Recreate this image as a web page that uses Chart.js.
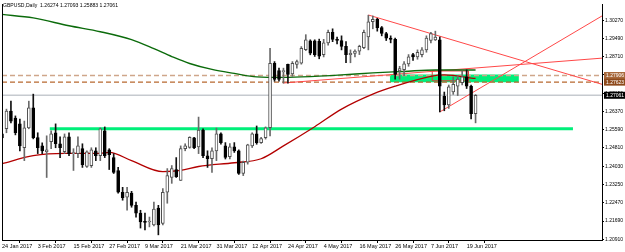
<!DOCTYPE html>
<html>
<head>
<meta charset="utf-8">
<script src="https://cdn.jsdelivr.net/npm/chart.js@4.4.1/dist/chart.umd.min.js"></script>
<style>
html, body { margin: 0; padding: 0; background: #fff; }
#wrap { width: 625px; height: 252px; }
</style>
</head>
<body>
<div id="wrap"><canvas id="chart" width="625" height="252"></canvas></div>
<script>
// ---- data ----
const title = "GBPUSD,Daily  1.26274 1.27093 1.25883 1.27061";

const dateLabels = ["24 Jan 2017","3 Feb 2017","15 Feb 2017","27 Feb 2017","9 Mar 2017","21 Mar 2017",
  "31 Mar 2017","12 Apr 2017","24 Apr 2017","4 May 2017","16 May 2017","26 May 2017","7 Jun 2017","19 Jun 2017"];
const dateIdx = [0,8,16,24,32,40,48,56,64,72,80,88,96,104];

const priceTicks = [1.30270,1.29490,1.28710,1.27930,1.27150,1.26370,1.25590,1.24810,1.24030,1.23250,1.22470,1.21690,1.20910];

const opens = [1.2541,1.2563,1.2639,1.2609,1.2584,1.2482,1.2567,1.2652,1.2525,1.2490,
  1.2465,1.2508,1.2546,1.2499,1.2465,1.2529,1.2457,1.2457,1.2478,1.2402,
  1.2406,1.2469,1.2448,1.2554,1.2473,1.2440,1.2385,1.2292,1.2271,1.2288,
  1.2236,1.2203,1.2167,1.2165,1.2152,1.2224,1.2159,1.2292,1.2355,1.2389,
  1.2342,1.2478,1.2483,1.2524,1.2486,1.2558,1.2448,1.2435,1.2469,1.2542,
  1.2490,1.2444,1.2486,1.2469,1.2372,1.2420,1.2490,1.2541,1.2504,1.2525,
  1.2568,1.2843,1.2812,1.2806,1.2838,1.2797,1.2838,1.2843,1.2901,1.2939,
  1.2939,1.2937,1.2880,1.2930,1.2975,1.2945,1.2940,1.2915,1.2880,1.2885,
  1.2895,1.2910,1.2955,1.3020,1.3030,1.2995,1.2970,1.2950,1.2945,1.2810,
  1.2815,1.2840,1.2880,1.2870,1.2880,1.2900,1.2940,1.2943,1.2943,1.2702,
  1.2665,1.2720,1.2745,1.2760,1.2785,1.2745,1.26274];
const highs = [1.2550,1.2647,1.2681,1.2618,1.2605,1.2596,1.2681,1.2711,1.2546,1.2503,
  1.2533,1.2554,1.2584,1.2529,1.2541,1.2546,1.2478,1.2529,1.2499,1.2469,
  1.2482,1.2482,1.2567,1.2571,1.2478,1.2457,1.2398,1.2313,1.2313,1.2296,
  1.2250,1.2215,1.2203,1.2186,1.2250,1.2236,1.2308,1.2393,1.2406,1.2440,
  1.2490,1.2499,1.2529,1.2526,1.2613,1.2563,1.2469,1.2482,1.2566,1.2546,
  1.2504,1.2500,1.2504,1.2473,1.2425,1.2497,1.2546,1.2575,1.2526,1.2571,
  1.2907,1.2850,1.2822,1.2822,1.2839,1.2850,1.2857,1.2914,1.2965,1.2943,
  1.2943,1.2946,1.2945,1.2985,1.2990,1.2955,1.2960,1.2935,1.2900,1.2900,
  1.2920,1.2985,1.3048,1.3045,1.3035,1.3000,1.2975,1.2960,1.2950,1.2830,
  1.2850,1.2880,1.2885,1.2900,1.2910,1.2960,1.2975,1.2980,1.2955,1.2720,
  1.2750,1.2785,1.2790,1.2810,1.2815,1.2750,1.27093];
const lows = [1.2516,1.2546,1.2588,1.2537,1.2469,1.2427,1.2563,1.2520,1.2457,1.2457,
  1.2355,1.2478,1.2482,1.2440,1.2457,1.2448,1.2385,1.2440,1.2398,1.2398,
  1.2398,1.2427,1.2427,1.2440,1.2389,1.2372,1.2288,1.2258,1.2215,1.2228,
  1.2186,1.2139,1.2131,1.2144,1.2148,1.2110,1.2152,1.2245,1.2330,1.2355,
  1.2342,1.2469,1.2480,1.2478,1.2457,1.2440,1.2398,1.2377,1.2427,1.2497,
  1.2434,1.2434,1.2462,1.2368,1.2363,1.2412,1.2483,1.2497,1.2500,1.2519,
  1.2533,1.2766,1.2766,1.2758,1.2758,1.2787,1.2822,1.2839,1.2897,1.2879,
  1.2872,1.2862,1.2870,1.2920,1.2935,1.2925,1.2900,1.2845,1.2845,1.2870,
  1.2880,1.2905,1.2900,1.2990,1.2980,1.2960,1.2940,1.2930,1.2775,1.2775,
  1.2790,1.2830,1.2855,1.2860,1.2870,1.2890,1.2930,1.2940,1.2635,1.2640,
  1.2650,1.2710,1.2705,1.2750,1.2735,1.2605,1.25883];
const closes = [1.2524,1.2639,1.2596,1.2546,1.2490,1.2567,1.2652,1.2525,1.2482,1.2469,
  1.2473,1.2541,1.2499,1.2482,1.2529,1.2457,1.2461,1.2490,1.2410,1.2465,
  1.2473,1.2448,1.2563,1.2448,1.2452,1.2377,1.2292,1.2269,1.2292,1.2236,
  1.2203,1.2165,1.2163,1.2167,1.2220,1.2152,1.2292,1.2363,1.2393,1.2359,
  1.2478,1.2490,1.2526,1.2482,1.2558,1.2448,1.2435,1.2469,1.2542,1.2504,
  1.2441,1.2486,1.2469,1.2372,1.2420,1.2495,1.2541,1.2504,1.2521,1.2567,
  1.2843,1.2774,1.2774,1.2812,1.2795,1.2843,1.2850,1.2907,1.2943,1.2886,
  1.2880,1.2873,1.2930,1.2975,1.2945,1.2940,1.2915,1.2880,1.2885,1.2895,
  1.2915,1.2975,1.3020,1.3030,1.2995,1.2970,1.2950,1.2945,1.2795,1.2820,
  1.2840,1.2870,1.2870,1.2890,1.2900,1.2950,1.2970,1.2955,1.2745,1.2665,
  1.2742,1.2753,1.2775,1.2785,1.2745,1.26274,1.27061];

const greenMaIdx = [0,7,15,22,29,34,38,42,47,52,57,63,70,76,83,90,97,106];
const greenMaVal = [1.30516,1.30367,1.30029,1.29775,1.29436,1.29053,1.28716,1.28419,1.28165,1.27996,
  1.27848,1.27826,1.27869,1.27932,1.28017,1.28080,1.28144,1.28144];
const redMaIdx = [0,7,14,22,24,29,36,40,44,52,58,63,70,76,83,88,96,99,106];
const redMaVal = [1.2414,1.2448,1.2458,1.2458,1.2462,1.2427,1.2380,1.2385,1.2402,1.2418,
  1.2435,1.2490,1.2572,1.2647,1.2711,1.2745,1.2787,1.2793,1.2778];

// trend lines [startIdx, startPrice, endIdx, endPrice]
const trendLines = [
  [82, 1.3049, 134.3, 1.2753],
  [62.9, 1.27585, 134.3, 1.28648],
  [98, 1.2635, 134.3, 1.3045]
];

// horizontal levels
const bidPrice = 1.27061;
const levelUpper = 1.27906;
const levelLower = 1.27623;
const supportLevel = 1.2563;
const supportFrom = 10.7, supportTo = 127.8;
const zoneTop = 1.2795, zoneBottom = 1.2762, zoneFrom = 86.8, zoneTo = 115.7;
// small red box over the zone [fromIdx, toIdx, top, bottom]
const redBox = [96.3, 104.4, 1.2810, 1.2768];

const xMin = 0, xMax = 134.3;
const yMin = 1.2088, yMax = 1.3096;

// ---- build datasets ----
const bull = opens.map((o, i) => closes[i] >= o);
const wickData = highs.map((h, i) => ({ x: i, y: [lows[i], h] }));
const bodyData = opens.map((o, i) => ({ x: i, y: [Math.min(o, closes[i]), Math.max(o, closes[i])] }));

function seg(x1, y1, x2, y2) { return [{ x: x1, y: y1 }, { x: x2, y: y2 }]; }
function lineDs(data, color, width, extra) {
  return Object.assign({ type: 'line', data, borderColor: color, borderWidth: width,
    pointRadius: 0, fill: false, tension: 0, order: 5 }, extra || {});
}
const boxPts = [
  { x: redBox[0], y: redBox[2] }, { x: redBox[1], y: redBox[2] },
  { x: redBox[1], y: redBox[3] }, { x: redBox[0], y: redBox[3] },
  { x: redBox[0], y: redBox[2] }
];

const datasets = [
  // candles on top
  { type: 'bar', data: bodyData, grouped: false, barThickness: 3, minBarLength: 1,
    backgroundColor: bull.map(b => b ? '#ffffff' : '#000000'),
    borderColor: bull.map(b => b ? '#505050' : '#000000'),
    borderWidth: 1, borderSkipped: false, order: 0 },
  { type: 'bar', data: wickData, grouped: false, barThickness: 1,
    backgroundColor: bull.map(b => b ? '#6a6a6a' : '#111111'), order: 1 },
  // moving averages
  lineDs(greenMaIdx.map((x, i) => ({ x, y: greenMaVal[i] })), '#0b6b0b', 1.4,
    { order: 2, cubicInterpolationMode: 'monotone' }),
  lineDs(redMaIdx.map((x, i) => ({ x, y: redMaVal[i] })), '#b30000', 1.3,
    { order: 2, cubicInterpolationMode: 'monotone' }),
  // trend lines
  ...trendLines.map(t => lineDs(seg(t[0], t[1], t[2], t[3]), '#ff4848', 1, { order: 3 })),
  lineDs(boxPts, '#e23a3a', 1, { order: 3 }),
  // levels
  lineDs(seg(xMin, levelUpper, xMax, levelUpper), '#cfa68a', 1.3, { borderDash: [5, 3], order: 4 }),
  lineDs(seg(xMin, levelLower, xMax, levelLower), '#b8682f', 1.3, { borderDash: [5, 3], order: 4 }),
  lineDs(seg(xMin, bidPrice, xMax, bidPrice), '#c6cacf', 1.5, { order: 6 }),
  lineDs(seg(supportFrom, supportLevel, supportTo, supportLevel), '#00ef7a', 3, { order: 6 }),
  // green zone (filled between two edges)
  lineDs(seg(zoneFrom, zoneTop, zoneTo, zoneTop), 'rgba(0,0,0,0)', 0,
    { fill: '+1', backgroundColor: '#00ef7a', order: 9 }),
  lineDs(seg(zoneFrom, zoneBottom, zoneTo, zoneBottom), 'rgba(0,0,0,0)', 0, { order: 9 })
];

const badges = [
  { v: levelUpper, bg: '#a8693c', fg: '#ffffff' },
  { v: levelLower, bg: '#8e4a1c', fg: '#ffffff' },
  { v: bidPrice, bg: '#000000', fg: '#ffffff' }
];

const overlay = {
  id: 'overlay',
  afterDraw(chart) {
    const { ctx, chartArea, scales } = chart;
    ctx.save();
    // left frame line
    ctx.strokeStyle = '#000';
    ctx.lineWidth = 1;
    ctx.beginPath();
    ctx.moveTo(chartArea.left + 0.5, chartArea.top);
    ctx.lineTo(chartArea.left + 0.5, chartArea.bottom);
    ctx.stroke();
    // title
    ctx.fillStyle = '#000';
    ctx.font = '5.1px "Liberation Sans", Arial, sans-serif';
    ctx.textBaseline = 'middle';
    ctx.textAlign = 'left';
    ctx.fillText(title, 3, 6);
    // price badges on the right axis
    ctx.font = '5px "Liberation Sans", Arial, sans-serif';
    badges.forEach(b => {
      const y = scales.y.getPixelForValue(b.v);
      ctx.fillStyle = b.bg;
      ctx.fillRect(chartArea.right + 2, y - 3.5, 23, 7);
      ctx.fillStyle = b.fg;
      ctx.fillText(b.v.toFixed(5), chartArea.right + 4, y + 0.3);
    });
    ctx.restore();
  }
};

new Chart(document.getElementById('chart'), {
  type: 'bar',
  data: { datasets },
  options: {
    responsive: false,
    animation: false,
    devicePixelRatio: 1,
    layout: { padding: { left: 2, top: 2, right: 0, bottom: 0 } },
    plugins: { legend: { display: false }, tooltip: { enabled: false } },
    scales: {
      x: {
        type: 'linear', min: xMin, max: xMax, offset: false,
        afterBuildTicks: s => { s.ticks = dateIdx.map(v => ({ value: v })); },
        afterFit: s => { s.height = 12; },
        ticks: { autoSkip: false, maxRotation: 0, align: 'start', padding: 0,
          color: '#000', font: { family: 'Liberation Sans', size: 5.5 },
          callback: v => dateLabels[dateIdx.indexOf(v)] },
        grid: { drawOnChartArea: false, tickLength: 3, color: '#000' },
        border: { color: '#000', width: 1 }
      },
      y: {
        type: 'linear', position: 'right', min: yMin, max: yMax,
        afterBuildTicks: s => { s.ticks = priceTicks.map(v => ({ value: v })); },
        afterFit: s => { s.width = 23; },
        ticks: { autoSkip: false, padding: 1, color: '#000',
          font: { family: 'Liberation Sans', size: 5 },
          callback: v => v.toFixed(5) },
        grid: { drawOnChartArea: false, tickLength: 2, color: '#000' },
        border: { color: '#000', width: 1 }
      }
    }
  },
  plugins: [overlay]
});
</script>
</body>
</html>
